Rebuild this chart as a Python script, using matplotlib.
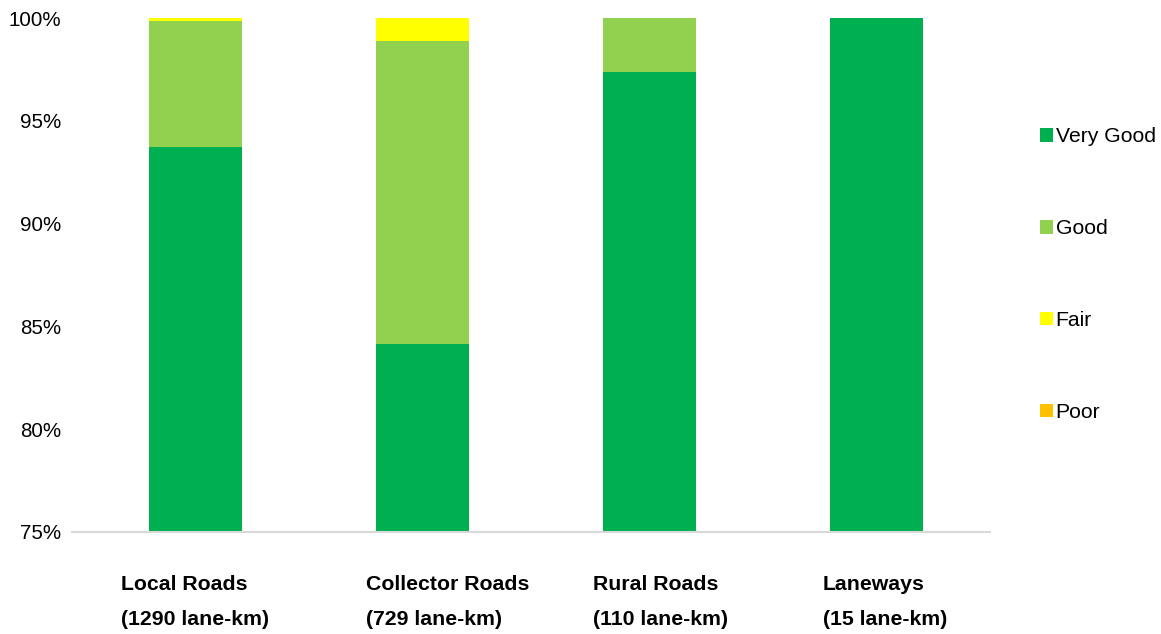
import matplotlib
matplotlib.use("Agg")
import matplotlib.pyplot as plt
import numpy as np
from matplotlib.patches import Patch

plt.rcParams['font.family'] = ['Liberation Sans', 'DejaVu Sans']

categories = ["Local Roads\n(1290 lane-km)", "Collector Roads\n(729 lane-km)",
              "Rural Roads\n(110 lane-km)", "Laneways\n(15 lane-km)"]
very_good = [93.73, 84.14, 97.39, 100.0]
good = [6.14, 14.73, 2.61, 0.0]
fair = [0.13, 1.13, 0.0, 0.0]
poor = [0.0, 0.0, 0.0, 0.0]
series_names = ["Very Good", "Good", "Fair", "Poor"]
colors = ["#00B050", "#92D050", "#FFFF00", "#FFC000"]
label_offsets = [-0.328, -0.251, -0.251, -0.238]

fig = plt.figure(figsize=(11.61, 6.34), dpi=100)
ax = fig.add_axes([0.062, 0.1609, 0.791, 0.8107])

x = np.arange(len(categories))
bottom = np.zeros(len(categories))
for vals, c in zip([very_good, good, fair, poor], colors):
    v = np.array(vals) / 100.0
    ax.bar(x, v, width=0.41, bottom=bottom, color=c, zorder=2)
    bottom += v

ax.set_ylim(0.75, 1.0)
ax.set_xlim(-0.545, 3.5)
ax.set_yticks([0.75, 0.80, 0.85, 0.90, 0.95, 1.0])
ax.set_yticklabels(["75%", "80%", "85%", "90%", "95%", "100%"], fontsize=14.8)
ax.tick_params(axis='y', length=0, pad=8)
ax.set_xticks([])
for s in ['top', 'right', 'left']:
    ax.spines[s].set_visible(False)
ax.spines['bottom'].set_color('#D9D9D9')
ax.spines['bottom'].set_linewidth(1.5)

for xi, lab, off in zip(x, categories, label_offsets):
    ax.text(xi + off, -0.083, lab, transform=ax.get_xaxis_transform(),
            ha='left', va='top', fontsize=15.3, fontweight='bold',
            linespacing=2.08)

handles = [Patch(facecolor=c, edgecolor='none') for c in colors]
fig.legend(handles, series_names, loc='upper left', bbox_to_anchor=(0.887, 0.8156),
           frameon=False, fontsize=15.2, handlelength=0.6, handleheight=0.6,
           handletextpad=0.12, labelspacing=3.45, borderpad=0)

fig.savefig("out.png", dpi=100)
